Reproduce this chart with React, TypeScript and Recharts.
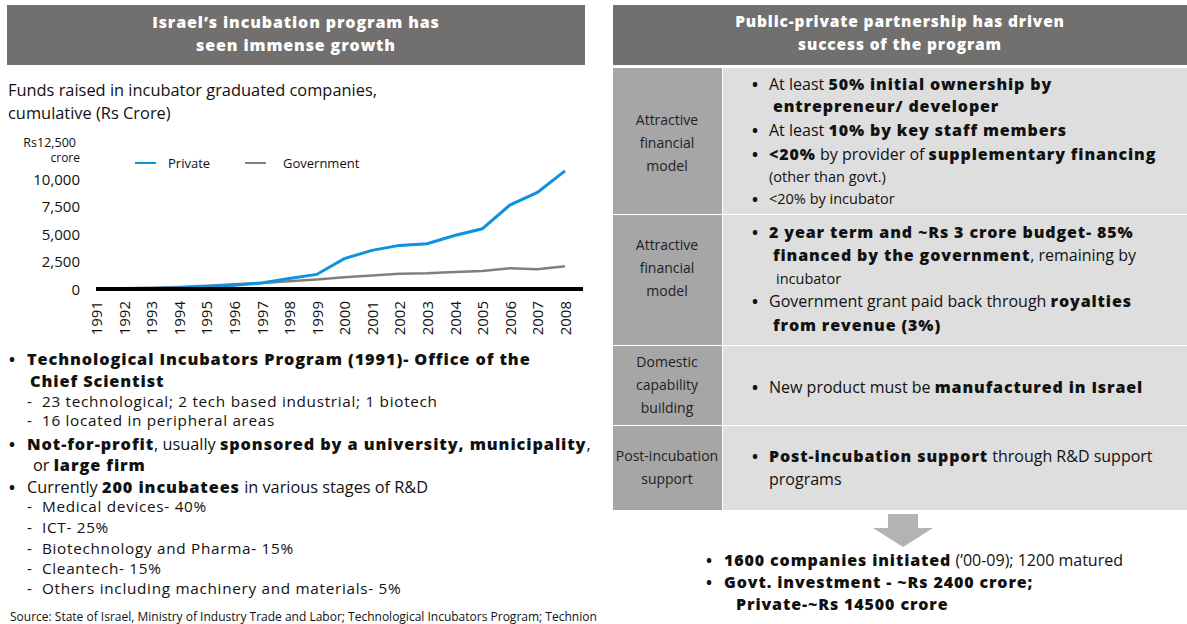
import React from 'react'
import { LineChart, Line, XAxis, YAxis } from 'recharts'

const years = ['1991', '1992', '1993', '1994', '1995', '1996', '1997', '1998', '1999', '2000', '2001', '2002', '2003', '2004', '2005', '2006', '2007', '2008']
const privateFunds = [0, 20, 50, 100, 200, 350, 550, 950, 1320, 2750, 3500, 3950, 4100, 4850, 5450, 7600, 8750, 10700]
const governmentFunds = [40, 70, 120, 190, 300, 430, 550, 700, 860, 1070, 1230, 1380, 1420, 1530, 1620, 1890, 1800, 2070]
const yTicks = [0, 2500, 5000, 7500, 10000, 12500]

const FONT = '"Open Sans", Lato, sans-serif'
const HEADER = '#72706f'
const BLUE = '#0b93de'
const GRAY = '#7f7f7f'

const data = years.map((year, i) => ({ year, private: privateFunds[i], government: governmentFunds[i] }))

const YearTick = ({ x, y, payload }: any) => (
  <text x={x} y={y + 4} transform={`rotate(-90 ${x} ${y + 4})`} textAnchor="end" dominantBaseline="central" fontSize={15} fill="#111" fontFamily={FONT}>
    {payload.value}
  </text>
)

const ValueTick = ({ y, payload }: any) => {
  if (payload.value === 12500) {
    return (
      <g fontFamily={FONT} fill="#111">
        <text x={76} y={y - 9} textAnchor="end" dominantBaseline="central" fontSize={12.5}>Rs12,500</text>
        <text x={80} y={y + 6} textAnchor="end" dominantBaseline="central" fontSize={12}>crore</text>
      </g>
    )
  }
  return (
    <text x={80} y={y} textAnchor="end" dominantBaseline="central" fontSize={15} fill="#111" fontFamily={FONT}>
      {payload.value.toLocaleString('en-US')}
    </text>
  )
}

const T = ({ x, y, size = 15, children, color = '#111', center, ls = 0 }: any) => (
  <div style={{ position: 'absolute', left: x, top: y, transform: center ? 'translate(-50%, -50%)' : 'translateY(-50%)', fontSize: size, color, whiteSpace: 'nowrap', lineHeight: 1, letterSpacing: ls, textAlign: center ? 'center' : 'left' }}>
    {children}
  </div>
)

// heavy text in the reference runs wider than Open Sans bold, so space it out a little
const B = ({ children }: any) => <b style={{ fontWeight: 800, letterSpacing: '0.055em' }}>{children}</b>
const Dot = ({ x, y }: any) => <T x={x} y={y} size={16}><b>•</b></T>

const rows = [
  { top: 68, bottom: 214, label: ['Attractive', 'financial', 'model'], labelY: 120 },
  { top: 215, bottom: 345, label: ['Attractive', 'financial', 'model'], labelY: 245 },
  { top: 346, bottom: 425, label: ['Domestic', 'capability', 'building'], labelY: 362 },
  { top: 426, bottom: 510, label: ['Post-incubation', 'support'], labelY: 456 },
]

export default function App() {
  return (
    <div style={{ position: 'fixed', left: 0, top: 0, width: 1187, height: 624, background: '#fff', fontFamily: FONT, overflow: 'hidden' }}>
      {/* headers */}
      <div style={{ position: 'absolute', left: 7, top: 5, width: 578, height: 60, background: HEADER }} />
      <T x={296} y={22} size={16} color="#fff" center><B>Israel’s incubation program has</B></T>
      <T x={296} y={45} size={16} color="#fff" center><B>seen immense growth</B></T>
      <div style={{ position: 'absolute', left: 613, top: 5, width: 574, height: 60, background: HEADER }} />
      <T x={900} y={22} size={15.5} color="#fff" center><B>Public-private partnership has driven</B></T>
      <T x={900} y={45} size={15.5} color="#fff" center><B>success of the program</B></T>

      {/* chart */}
      <T x={8} y={90} size={16.4}>Funds raised in incubator graduated companies,</T>
      <T x={8} y={113} size={16.4}>cumulative (Rs Crore)</T>
      <div style={{ position: 'absolute', left: 0, top: 130 }}>
        <LineChart width={590} height={210} data={data} margin={{ top: 21, right: 7, bottom: 6, left: 0 }}>
          <XAxis dataKey="year" scale="point" padding={{ left: 0, right: 18 }} interval={0} height={45} axisLine={{ stroke: '#000', strokeWidth: 4 }} tickLine={false} tick={<YearTick />} />
          <YAxis width={96} domain={[0, 12500]} ticks={yTicks} interval={0} axisLine={false} tickLine={false} tick={<ValueTick />} />
          <Line dataKey="government" type="linear" stroke={GRAY} strokeWidth={2.5} dot={false} isAnimationActive={false} />
          <Line dataKey="private" type="linear" stroke={BLUE} strokeWidth={3} dot={false} isAnimationActive={false} />
        </LineChart>
      </div>
      <div style={{ position: 'absolute', left: 135, top: 162, width: 21, height: 2, background: BLUE }} />
      <T x={168} y={163} size={13}>Private</T>
      <div style={{ position: 'absolute', left: 245, top: 162, width: 21, height: 2, background: GRAY }} />
      <T x={283} y={163} size={13}>Government</T>

      {/* left bullets */}
      <Dot x={9} y={359} />
      <T x={27} y={359} size={16.3}><B>Technological Incubators Program (1991)- Office of the</B></T>
      <T x={30} y={381} size={16.3}><B>Chief Scientist</B></T>
      <T x={27} y={402} size={15.3} ls={0.7}>-&nbsp; 23 technological; 2 tech based industrial; 1 biotech</T>
      <T x={27} y={421} size={15.3} ls={0.7}>-&nbsp; 16 located in peripheral areas</T>
      <Dot x={9} y={444} />
      <T x={27} y={444} size={16.3}><B>Not-for-profit</B>, usually <B>sponsored by a university, municipality</B>,</T>
      <T x={33} y={465} size={16.3}>or <B>large firm</B></T>
      <Dot x={9} y={487} />
      <T x={27} y={487} size={16.3}>Currently <B>200 incubatees</B> in various stages of R&amp;D</T>
      <T x={27} y={507} size={15.3} ls={0.7}>-&nbsp; Medical devices- 40%</T>
      <T x={27} y={528} size={15.3} ls={0.7}>-&nbsp; ICT- 25%</T>
      <T x={27} y={549} size={15.3} ls={0.7}>-&nbsp; Biotechnology and Pharma- 15%</T>
      <T x={27} y={569} size={15.3} ls={0.7}>-&nbsp; Cleantech- 15%</T>
      <T x={27} y={589} size={15.3} ls={0.7}>-&nbsp; Others including machinery and materials- 5%</T>
      <T x={10} y={617} size={12}>Source: State of Israel, Ministry of Industry Trade and Labor; Technological Incubators Program; Technion</T>

      {/* table */}
      {rows.map((r, i) => (
        <React.Fragment key={i}>
          <div style={{ position: 'absolute', left: 613, top: r.top, width: 109, height: r.bottom - r.top, background: '#a6a6a6' }} />
          <div style={{ position: 'absolute', left: 723, top: r.top, width: 464, height: r.bottom - r.top, background: '#dedede' }} />
          {r.label.map((l, j) => (
            <T key={j} x={667} y={r.labelY + j * 23} size={14} color="#222" center>{l}</T>
          ))}
        </React.Fragment>
      ))}
      <Dot x={752} y={84} />
      <T x={769} y={84} size={16}>At least <B>50% initial ownership by</B></T>
      <T x={773} y={106} size={16}><B>entrepreneur/ developer</B></T>
      <Dot x={752} y={130} />
      <T x={769} y={130} size={16}>At least <B>10% by key staff members</B></T>
      <Dot x={752} y={154} />
      <T x={769} y={154} size={16}><B>&lt;20%</B> by provider of <B>supplementary financing</B></T>
      <T x={769} y={177} size={14.5}>(other than govt.)</T>
      <Dot x={752} y={199} />
      <T x={769} y={199} size={14.5}>&lt;20% by incubator</T>

      <Dot x={752} y={232} />
      <T x={769} y={232} size={16}><B>2 year term and ~Rs 3 crore budget- 85%</B></T>
      <T x={773} y={255} size={16}><B>financed by the government</B>, remaining by</T>
      <T x={776} y={279} size={14.5}>incubator</T>
      <Dot x={752} y={301} />
      <T x={769} y={301} size={16}>Government grant paid back through <B>royalties</B></T>
      <T x={773} y={325} size={16}><B>from revenue (3%)</B></T>

      <Dot x={752} y={387} />
      <T x={769} y={387} size={16}>New product must be <B>manufactured in Israel</B></T>

      <Dot x={752} y={456} />
      <T x={769} y={456} size={16}><B>Post-incubation support</B> through R&amp;D support</T>
      <T x={769} y={479} size={16}>programs</T>

      {/* arrow */}
      <svg style={{ position: 'absolute', left: 870, top: 514 }} width={66} height={36}>
        <polygon points="18,0 48,0 48,14 63,14 33,33 3,14 18,14" fill="#b3b3b3" />
      </svg>

      <Dot x={706} y={560} />
      <T x={724} y={560} size={16}><B>1600 companies initiated</B> (’00-09); 1200 matured</T>
      <Dot x={706} y={582} />
      <T x={724} y={582} size={16}><B>Govt. investment - ~Rs 2400 crore;</B></T>
      <T x={736} y={604} size={16}><B>Private-~Rs 14500 crore</B></T>
    </div>
  )
}
